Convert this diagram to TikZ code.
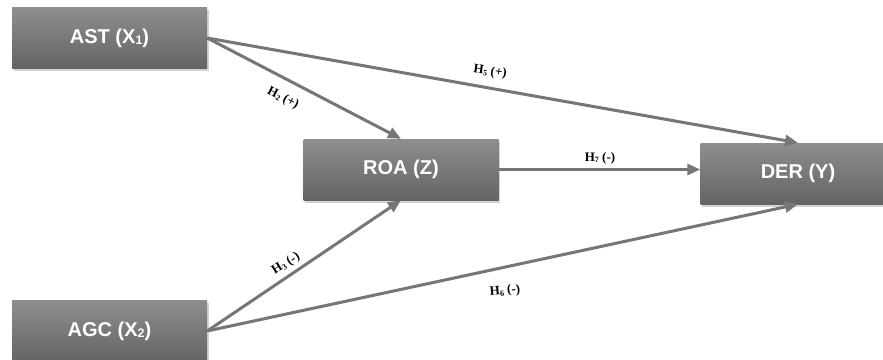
\documentclass[tikz,border=0pt]{standalone}
\usepackage{fontspec}
\setmainfont{Liberation Serif}
\newfontfamily\boxfont{Liberation Sans}
\usetikzlibrary{shadows,arrows.meta}

\definecolor{boxtop}{HTML}{8E8E8E}
\definecolor{boxbot}{HTML}{646464}
\definecolor{linkgray}{HTML}{767676}

% small index digit that sits near the baseline
\newcommand{\idx}[1]{\raisebox{-1.5pt}{\fontsize{0.62em}{1em}\selectfont #1}}

\tikzset{
  varbox/.style={rectangle, minimum width=195pt, minimum height=61pt,
    top color=boxtop, bottom color=boxbot, draw=none,
    drop shadow={shadow xshift=1.5pt, shadow yshift=-2.5pt, opacity=0.35},
    text=white, font=\boxfont\bfseries\fontsize{20}{23}\selectfont},
  link/.style={draw=linkgray, line width=3pt,
    -{Triangle[length=13pt,width=11pt]}},
  hyp/.style={font=\bfseries\fontsize{13}{15}\selectfont, text=black, inner sep=1pt}
}

\begin{document}
\begin{tikzpicture}[x=1pt,y=-1pt]
  \useasboundingbox (0,0) rectangle (883,359);

  % variables
  \node[varbox] (ast) at (109.5,38) {AST (X\idx{1})};
  \node[varbox] (roa) at (401,169.5) {ROA (Z)};
  \node[varbox] (der) at (798,173.5) {DER (Y)};
  \node[varbox] (agc) at (109.5,331) {AGC (X\idx{2})};

  % hypothesised paths
  \draw[link] (ast.east) -- (roa.north);
  \draw[link] (ast.east) -- (der.north);
  \draw[link] (roa.east) -- (roa.east -| der.west);
  \draw[link] (agc.east) -- (roa.south);
  \draw[link] (agc.east) -- (der.south);

  % path labels
  \node[hyp, rotate=-27] (h2) at (283,98) {H\idx{2} (+)};
  \node[hyp, rotate=-8] (h5) at (490,72) {H\idx{5} (+)};
  \node[hyp] (h7) at (600,158) {H\idx{7} (-)};
  \node[hyp, rotate=33] (h3) at (286,264) {H\idx{3} (-)};
  \node[hyp, rotate=5] (h6) at (505,291) {H\idx{6} (-)};
\end{tikzpicture}
\end{document}
